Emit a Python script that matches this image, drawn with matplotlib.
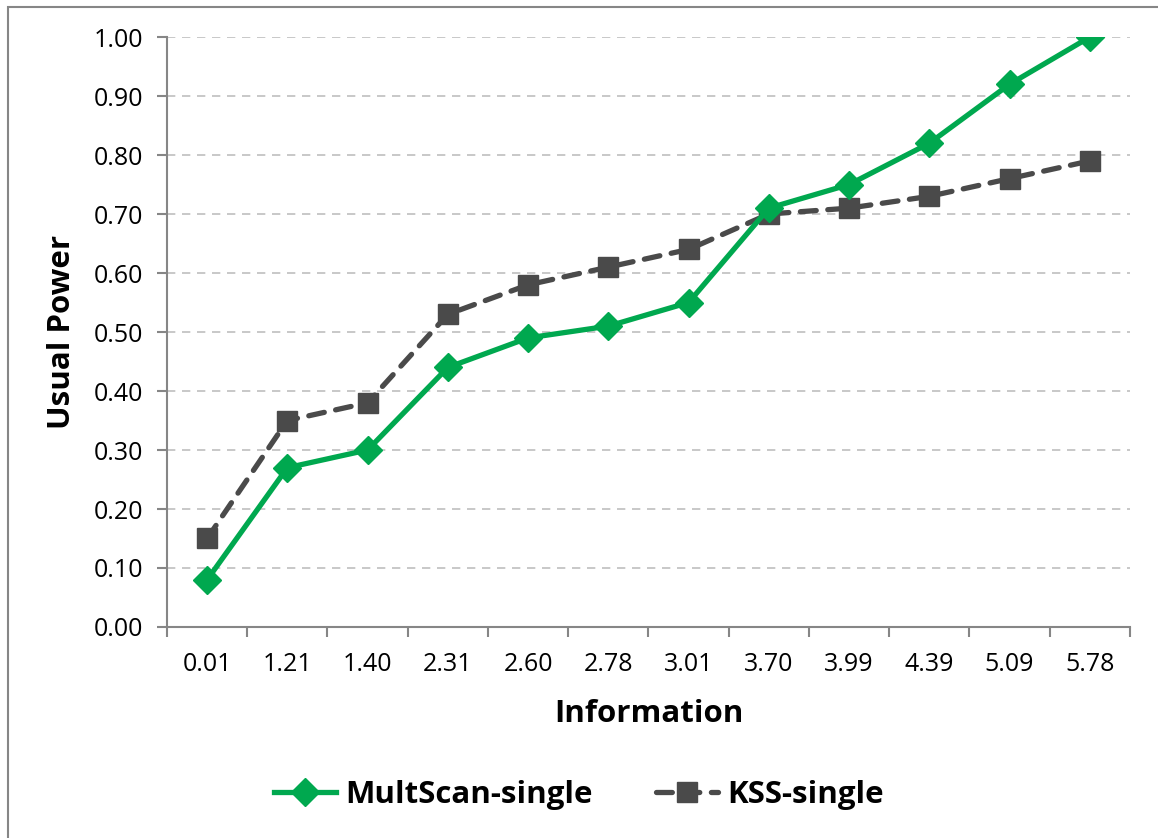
import matplotlib.pyplot as plt
from matplotlib.patches import Rectangle
from matplotlib.ticker import MultipleLocator, FixedLocator

# data
categories = ["0.01", "1.21", "1.40", "2.31", "2.60", "2.78", "3.01", "3.70", "3.99", "4.39", "5.09", "5.78"]
multscan = [0.08, 0.27, 0.30, 0.44, 0.49, 0.51, 0.55, 0.71, 0.75, 0.82, 0.92, 1.00]
kss = [0.15, 0.35, 0.38, 0.53, 0.58, 0.61, 0.64, 0.70, 0.71, 0.73, 0.76, 0.79]

plt.rcParams['font.family'] = ['Open Sans', 'DejaVu Sans']

fig = plt.figure(figsize=(11.58, 8.38), dpi=100)
ax = fig.add_axes([0.1442, 0.2518, 0.8316, 0.704])

x = list(range(len(categories)))
ax.plot(x, multscan, color='#00A84F', lw=3.8, marker='D', markersize=14,
        label='MultScan-single', zorder=3)
ax.plot(x, kss, color='#4A4A4A', lw=3.8, linestyle=(0, (3, 2.2)), dash_capstyle='round',
        marker='s', markersize=14, label='KSS-single', zorder=2)

ax.set_xlim(-0.5, len(categories) - 0.5)
ax.set_ylim(0, 1.0)
ax.yaxis.set_major_locator(MultipleLocator(0.1))
ax.yaxis.set_major_formatter(plt.FuncFormatter(lambda v, p: f"{v:.2f}"))
ax.set_xticks(x)
ax.set_xticklabels(categories)
ax.xaxis.set_minor_locator(FixedLocator([i - 0.5 for i in range(len(categories) + 1)]))

ax.grid(axis='y', color='#BFBFBF', linestyle=(0, (5, 4)), lw=1.2, zorder=0)
ax.set_axisbelow(True)

for s in ['top', 'right']:
    ax.spines[s].set_visible(False)
for s in ['left', 'bottom']:
    ax.spines[s].set_color('#868686')
    ax.spines[s].set_linewidth(1.5)

ax.tick_params(axis='y', which='major', length=7, width=1.5, color='#868686',
               labelsize=18, pad=10)
ax.tick_params(axis='x', which='major', length=0, labelsize=18, pad=18)
ax.tick_params(axis='x', which='minor', length=7, width=1.5, color='#868686')

ax.set_xlabel('Information', fontsize=22.5, fontweight='bold', labelpad=16)
ax.set_ylabel('Usual Power', fontsize=22.5, fontweight='bold', labelpad=12)

fig.legend(loc='center', bbox_to_anchor=(0.5, 0.051), ncol=2, frameon=False,
           prop={'weight': 'bold', 'size': 22.5}, handlelength=2.0,
           columnspacing=2.0, handletextpad=0.3)

# chart border (only left and top visible in the original)
fig.add_artist(Rectangle((8 / 1158, -0.05), 1.1, 1 - 7 / 838 + 0.05, transform=fig.transFigure,
                         fill=False, edgecolor='#868686', lw=1.5, clip_on=False))

fig.savefig('out.png', dpi=100)
